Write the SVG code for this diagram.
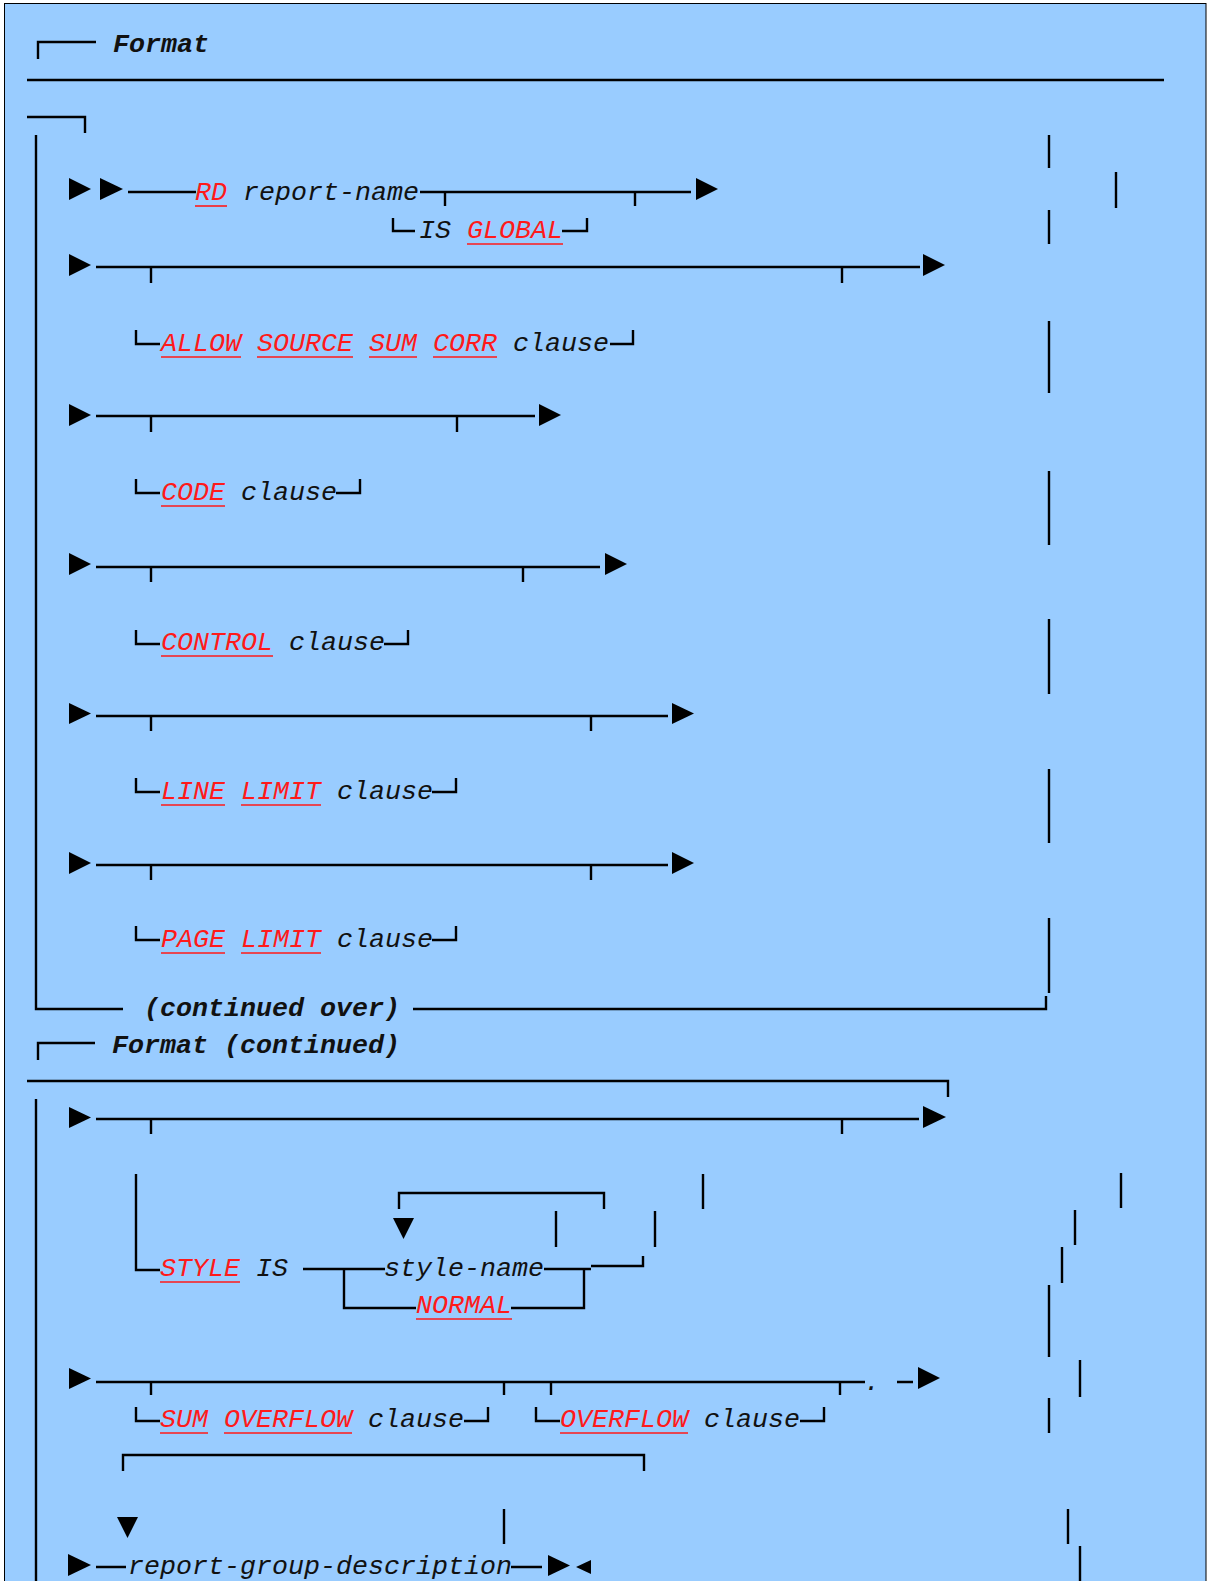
<svg xmlns="http://www.w3.org/2000/svg" width="1210" height="1581" viewBox="0 0 1210 1581">
<style>
.t{font-family:"Liberation Mono","Courier New",monospace;font-size:26.67px;font-style:italic;fill:#111}
.b{font-weight:bold}
.r{fill:#ff1a1a}
.ln{fill:none;stroke:#000;stroke-width:2.4}
.ul{fill:none;stroke:#ff1a1a;stroke-width:1.6}
.ar{fill:#000}
</style>
<rect x="0" y="0" width="1210" height="1581" fill="#fff"/>
<rect x="4.5" y="3.5" width="1201.5" height="1600" fill="#99ccff" stroke="#000" stroke-width="1"/>

<g id="connectors">
<path class="ln" d="M38 59V42H96 M27 80H1164 M27 117H85V133 M36 135V1009H123 M413 1009H1046V996"/>
<path class="ln" d="M1049 135V168 M1116 172V208 M1049 210V244 M1049 321V393 M1049 471V545 M1049 619V694 M1049 769V843 M1049 918V993"/>
<path class="ln" d="M128 192H196 M420 192H691 M445 192V206 M635 192V206"/>
<path class="ln" d="M393 218V231H415 M562 231H587V218"/>
<path class="ln" d="M96 267H920 M151 267V283 M842 267V283"/>
<path class="ln" d="M136 330V344H160 M610 344H633V330"/>
<path class="ln" d="M96 416H535 M151 416V432 M457 416V432"/>
<path class="ln" d="M136 479V493H160 M336 493H360V479"/>
<path class="ln" d="M96 567H600 M151 567V582 M523 567V582"/>
<path class="ln" d="M136 630V644H160 M384 644H408V630"/>
<path class="ln" d="M96 716H668 M151 716V731 M591 716V731"/>
<path class="ln" d="M136 778V792H160 M432 792H456V778"/>
<path class="ln" d="M96 865H668 M151 865V880 M591 865V880"/>
<path class="ln" d="M136 926V940H160 M432 940H456V926"/>
<path class="ln" d="M38 1060V1043H95 M27 1081H948V1097 M36 1099V1581"/>
<path class="ln" d="M1121 1173V1208 M1075 1210V1245 M1062 1247V1283 M1049 1285V1357 M1080 1360V1397 M1049 1398V1433 M1068 1509V1544 M1080 1546V1581"/>
<path class="ln" d="M96 1119H919 M151 1119V1134 M842 1119V1134"/>
<path class="ln" d="M136 1174V1270H160 M303 1269H385 M344 1269V1308H416 M511 1308H584V1270 M544 1269H591 M591 1266H643V1256"/>
<path class="ln" d="M399 1209V1193H604V1209 M556 1211V1247 M655 1211V1247 M703 1174V1209"/>
<path class="ln" d="M96 1382H865 M151 1382V1395 M504 1382V1395 M551 1382V1395 M840 1382V1395 M897 1382H913"/>
<path class="ln" d="M136 1407V1421H160 M464 1421H488V1407 M536 1407V1421H560 M800 1421H824V1407"/>
<path class="ln" d="M123 1471V1455H644V1471 M504 1509V1544"/>
<path class="ln" d="M96 1567H126 M511 1567H542"/>
<g class="ar">
<polygon points="69,178 69,200 91,189"/>
<polygon points="100,178 100,200 123,189"/>
<polygon points="696,178 696,200 718,189"/>
<polygon points="69,254 69,276 91,265"/>
<polygon points="923,254 923,276 945,265"/>
<polygon points="69,404 69,426 91,415"/>
<polygon points="539,404 539,426 561,415"/>
<polygon points="69,553 69,575 91,564"/>
<polygon points="605,553 605,575 627,564"/>
<polygon points="69,703 69,724 91,713.5"/>
<polygon points="672,703 672,724 694,713.5"/>
<polygon points="69,852 69,874 91,863"/>
<polygon points="672,852 672,874 694,863"/>
<polygon points="69,1107 69,1128 91,1117.5"/>
<polygon points="923,1106 923,1128 946,1117"/>
<polygon points="393,1218 414,1218 403.5,1239"/>
<polygon points="69,1368 69,1389 91,1378.5"/>
<polygon points="918,1367 918,1389 940,1378"/>
<polygon points="117,1517 138,1517 127.5,1538"/>
<polygon points="68,1554 68,1576 91,1565"/>
<polygon points="548,1555 548,1576 570,1565.5"/>
<polygon points="591,1560 591,1574 576,1567"/>
</g>
</g>

<g id="title1"><text class="t b" x="113" y="52">Format</text></g>
<g id="rd"><text class="t" x="195" y="200"><tspan class="r">RD</tspan> report-name</text><path class="ul" d="M195 206H227"/></g>
<g id="global"><text class="t" x="419" y="238">IS <tspan class="r">GLOBAL</tspan></text><path class="ul" d="M467 244H563"/></g>
<g id="allow"><text class="t" x="161" y="351"><tspan class="r">ALLOW</tspan> <tspan class="r">SOURCE</tspan> <tspan class="r">SUM</tspan> <tspan class="r">CORR</tspan> clause</text><path class="ul" d="M161 357H241 M257 357H353 M369 357H417 M433 357H497"/></g>
<g id="code"><text class="t" x="161" y="500"><tspan class="r">CODE</tspan> clause</text><path class="ul" d="M161 506H225"/></g>
<g id="control"><text class="t" x="161" y="650"><tspan class="r">CONTROL</tspan> clause</text><path class="ul" d="M161 656H273"/></g>
<g id="linelimit"><text class="t" x="161" y="799"><tspan class="r">LINE</tspan> <tspan class="r">LIMIT</tspan> clause</text><path class="ul" d="M161 805H225 M241 805H321"/></g>
<g id="pagelimit"><text class="t" x="161" y="947"><tspan class="r">PAGE</tspan> <tspan class="r">LIMIT</tspan> clause</text><path class="ul" d="M161 953H225 M241 953H321"/></g>
<g id="contover"><text class="t b" x="144" y="1016">(continued over)</text></g>
<g id="title2"><text class="t b" x="112" y="1053">Format (continued)</text></g>
<g id="style"><text class="t" x="160" y="1276"><tspan class="r">STYLE</tspan> IS</text><path class="ul" d="M160 1282H240"/></g>
<g id="stylename"><text class="t" x="384" y="1276">style-name</text></g>
<g id="normal"><text class="t r" x="416" y="1313">NORMAL</text><path class="ul" d="M416 1319H512"/></g>
<g id="period"><text class="t" x="864" y="1390">.</text></g>
<g id="sumoverflow"><text class="t" x="160" y="1427"><tspan class="r">SUM</tspan> <tspan class="r">OVERFLOW</tspan> clause</text><path class="ul" d="M160 1433H208 M224 1433H352"/></g>
<g id="overflow"><text class="t" x="560" y="1427"><tspan class="r">OVERFLOW</tspan> clause</text><path class="ul" d="M560 1433H688"/></g>
<g id="rgd"><text class="t" x="128" y="1574">report-group-description</text></g>
</svg>
